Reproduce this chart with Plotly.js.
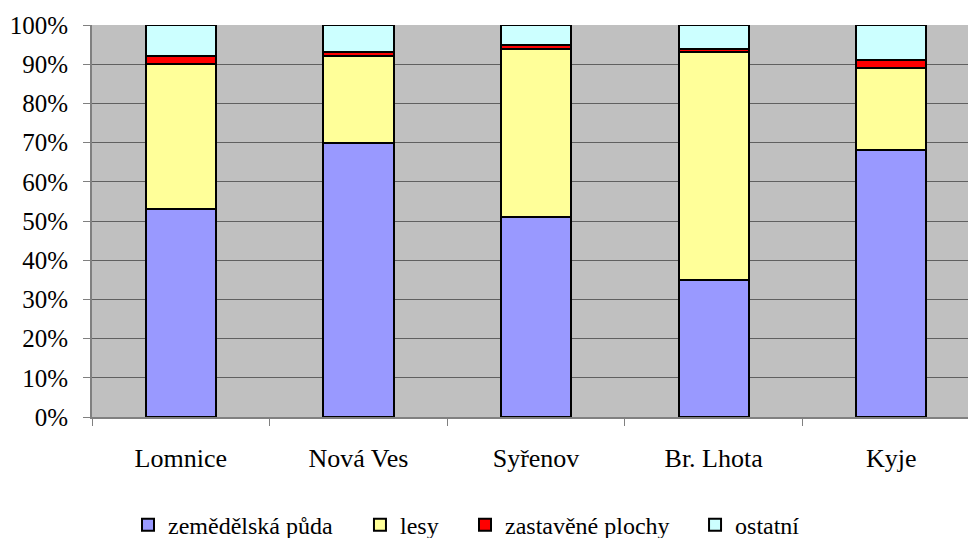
<!DOCTYPE html>
<html>
<head>
<meta charset="utf-8">
<script src="https://cdn.plot.ly/plotly-3.0.1.min.js"></script>
<style>html,body{margin:0;padding:0;background:#fff;}#chart{width:968px;height:538px;}</style>
</head>
<body>
<div id="chart"></div>
<script>
const categories = ["Lomnice", "Nová Ves", "Syřenov", "Br. Lhota", "Kyje"];
const zemedelska = [53, 70, 51, 35, 68];
const lesy = [37, 22, 43, 58, 21];
const zastavene = [2.2, 1, 1, 1, 2.1];
const ostatni = [7.8, 7, 5, 6, 8.9];
const seriesNames = ["zemědělská půda", "lesy", "zastavěné plochy", "ostatní"];
const seriesColors = ["#9999FF", "#FFFF99", "#FF0000", "#CCFFFF"];
const yTickVals = [0,10,20,30,40,50,60,70,80,90,100];
const yTickText = ["0%","10%","20%","30%","40%","50%","60%","70%","80%","90%","100%"];

const FAM = '"Liberation Serif", "Times New Roman", serif';
const legendIds = ['legend', 'legend2', 'legend3', 'legend4'];
const legendX = [0.0411, 0.3059, 0.4258, 0.6884];
const allSeries = [zemedelska, lesy, zastavene, ostatni];
const traces = allSeries.map((vals, i) => ({
  type: 'bar',
  x: categories,
  y: vals,
  name: seriesNames[i],
  legend: legendIds[i],
  marker: {color: seriesColors[i], line: {color: '#000000', width: 2}},
  hoverinfo: 'skip'
}));

const layout = {
  width: 968, height: 538,
  margin: {l: 92, r: 0, t: 25, b: 121, autoexpand: false},
  paper_bgcolor: '#ffffff',
  plot_bgcolor: '#C0C0C0',
  barmode: 'stack',
  bargap: 0.605,
  font: {family: FAM, color: '#000', size: 24},
  showlegend: true,
  xaxis: {
    type: 'category', automargin: false,
    range: [-0.5, 4.432],
    showgrid: false,
    showline: true, linecolor: '#808080', linewidth: 2,
    ticks: 'outside', tickson: 'boundaries', ticklen: 7, tickcolor: '#808080', tickwidth: 1,
    ticklabelstandoff: 17,
    tickfont: {family: FAM, size: 26, color: '#000'},
    zeroline: false, fixedrange: true
  },
  yaxis: {
    range: [0, 100], automargin: false,
    tickvals: yTickVals, ticktext: yTickText,
    showgrid: true, gridcolor: '#606060', gridwidth: 1,
    showline: true, linecolor: '#808080', linewidth: 2,
    ticks: 'outside', ticklen: 7, tickcolor: '#808080', tickwidth: 1,
    ticklabelstandoff: 10,
    tickfont: {family: FAM, size: 25, color: '#000'},
    zeroline: false, fixedrange: true
  }
};
legendIds.forEach((id, i) => {
  layout[id] = {
    orientation: 'h', x: legendX[i], xanchor: 'left', y: -0.276, yanchor: 'middle',
    font: {family: FAM, size: 24, color: '#000'}, itemwidth: 30,
    bgcolor: 'rgba(0,0,0,0)', borderwidth: 0
  };
});

Plotly.newPlot('chart', traces, layout, {displayModeBar: false, staticPlot: true});
</script>
</body>
</html>
